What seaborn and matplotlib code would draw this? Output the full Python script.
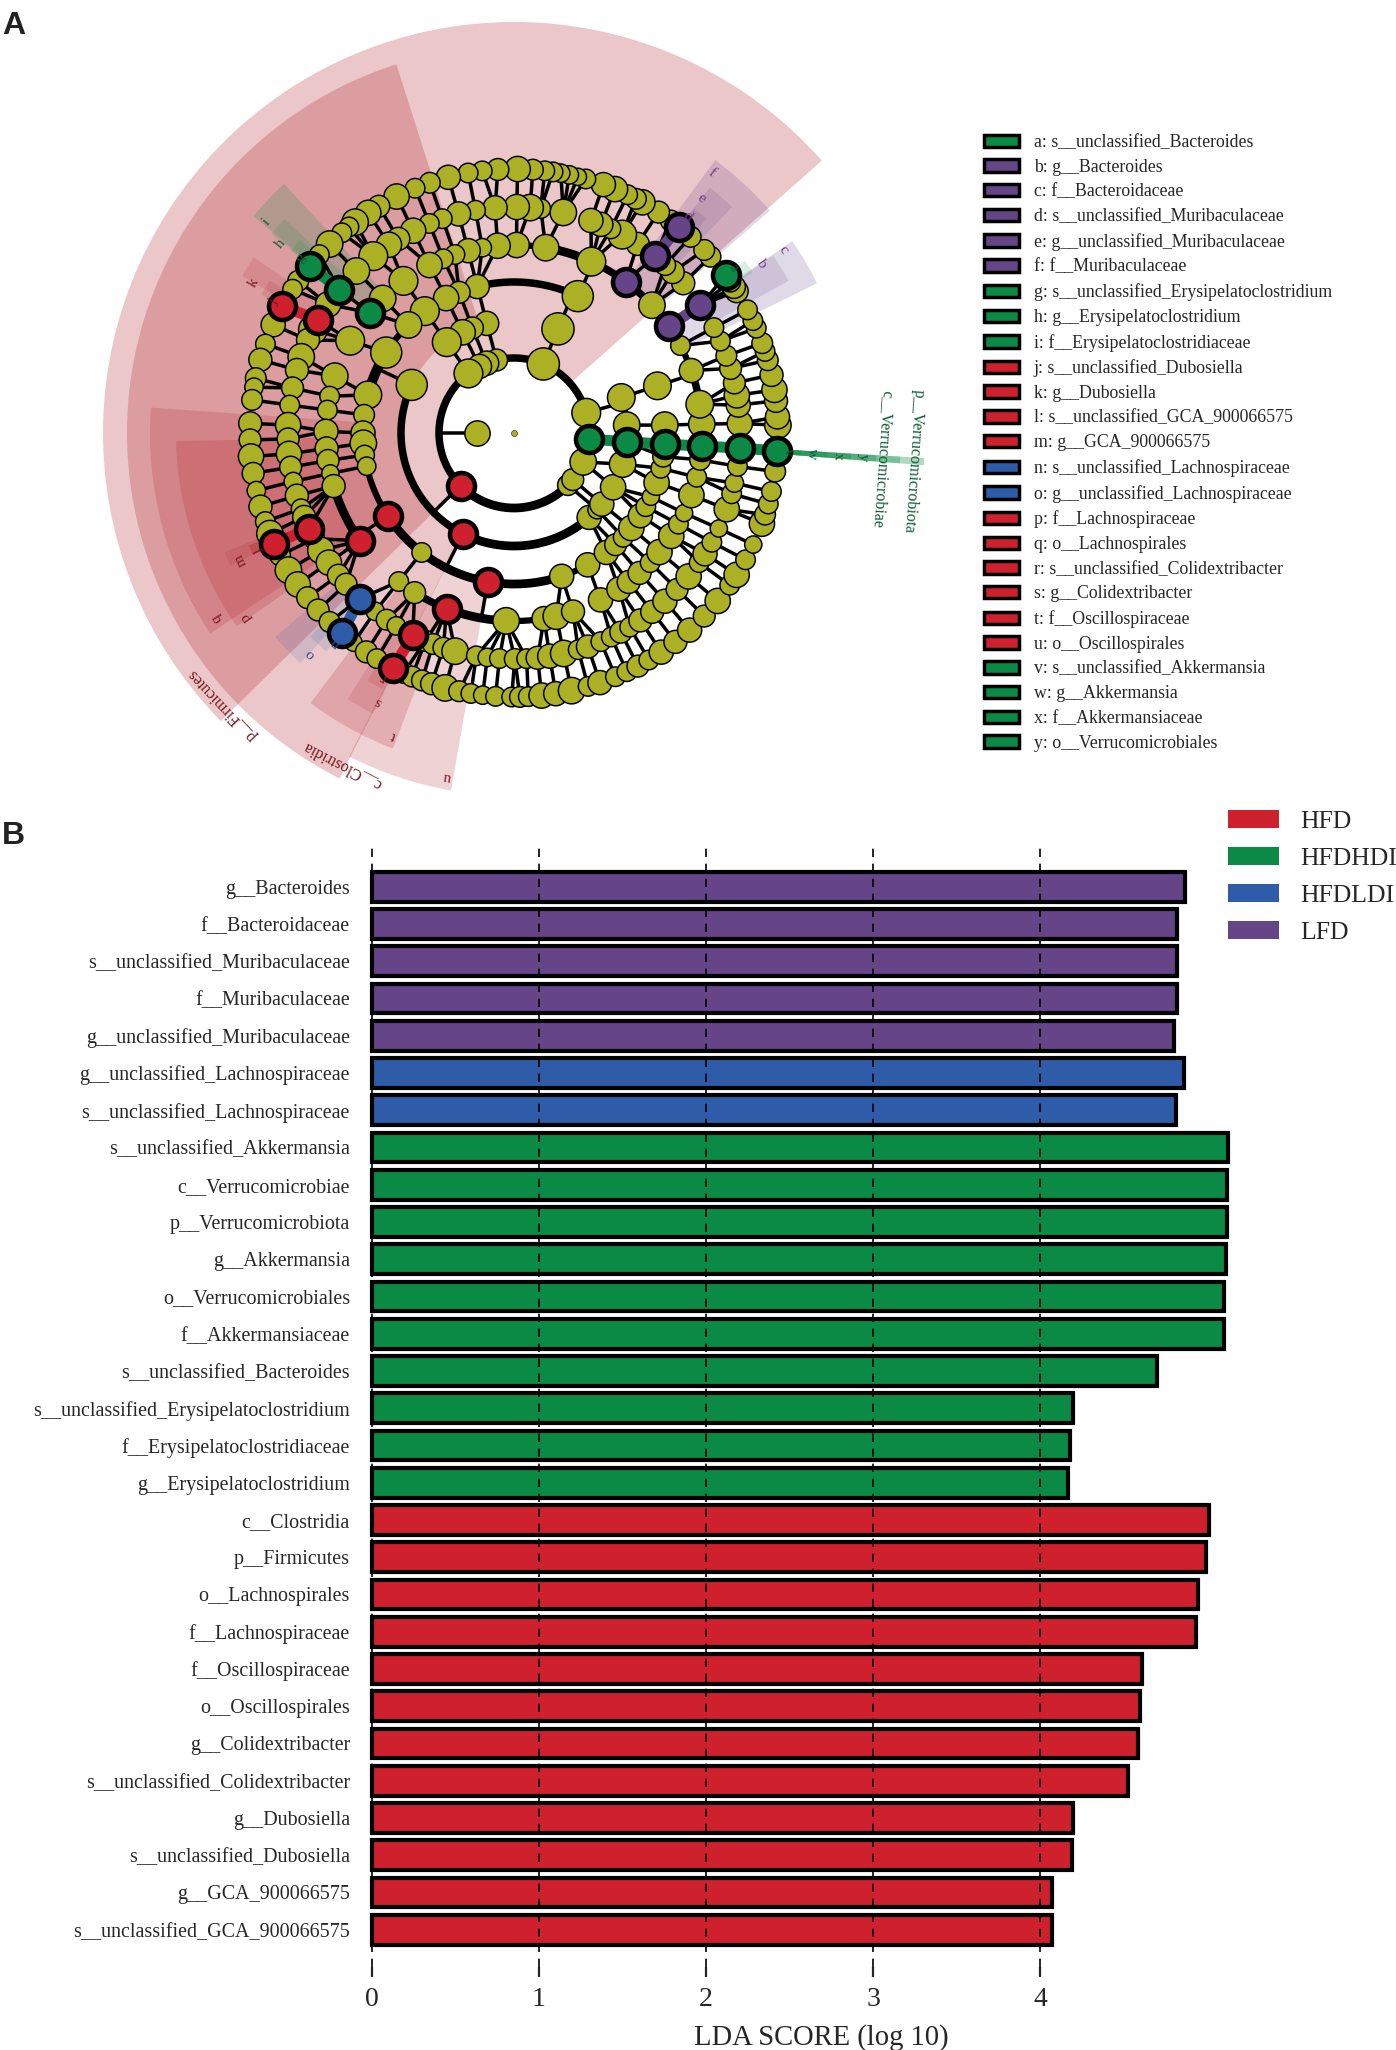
import numpy as np
import pandas as pd
import matplotlib
matplotlib.use("Agg")
import matplotlib.pyplot as plt
from matplotlib.patches import Patch
import seaborn as sns

sns.set_style("white")
plt.rcParams['font.family'] = 'Liberation Serif'

# ---- panel B data
features = ["g__Bacteroides", "f__Bacteroidaceae", "s__unclassified_Muribaculaceae", "f__Muribaculaceae",
            "g__unclassified_Muribaculaceae", "g__unclassified_Lachnospiraceae", "s__unclassified_Lachnospiraceae",
            "s__unclassified_Akkermansia", "c__Verrucomicrobiae", "p__Verrucomicrobiota", "g__Akkermansia",
            "o__Verrucomicrobiales", "f__Akkermansiaceae", "s__unclassified_Bacteroides",
            "s__unclassified_Erysipelatoclostridium", "f__Erysipelatoclostridiaceae", "g__Erysipelatoclostridium",
            "c__Clostridia", "p__Firmicutes", "o__Lachnospirales", "f__Lachnospiraceae", "f__Oscillospiraceae",
            "o__Oscillospirales", "g__Colidextribacter", "s__unclassified_Colidextribacter", "g__Dubosiella",
            "s__unclassified_Dubosiella", "g__GCA_900066575", "s__unclassified_GCA_900066575"]
scores = [4.867, 4.82, 4.82, 4.82, 4.797, 4.86, 4.81,
          5.125, 5.117, 5.117, 5.11, 5.10, 5.10, 4.695, 4.195, 4.18, 4.165,
          5.008, 4.992, 4.945, 4.93, 4.61, 4.594, 4.586, 4.523, 4.195, 4.19, 4.07, 4.07]
groups = ["LFD"] * 5 + ["HFDLDI"] * 2 + ["HFDHDI"] * 10 + ["HFD"] * 12
group_names = ["HFD", "HFDHDI", "HFDLDI", "LFD"]
group_colors = {"HFD": "#cf202e", "HFDHDI": "#0b8a45", "HFDLDI": "#2f5ca8", "LFD": "#664488"}

# ---- panel A legend
legend_labels = ["a: s__unclassified_Bacteroides", "b: g__Bacteroides", "c: f__Bacteroidaceae",
                 "d: s__unclassified_Muribaculaceae", "e: g__unclassified_Muribaculaceae", "f: f__Muribaculaceae",
                 "g: s__unclassified_Erysipelatoclostridium", "h: g__Erysipelatoclostridium",
                 "i: f__Erysipelatoclostridiaceae", "j: s__unclassified_Dubosiella", "k: g__Dubosiella",
                 "l: s__unclassified_GCA_900066575", "m: g__GCA_900066575", "n: s__unclassified_Lachnospiraceae",
                 "o: g__unclassified_Lachnospiraceae", "p: f__Lachnospiraceae", "q: o__Lachnospirales",
                 "r: s__unclassified_Colidextribacter", "s: g__Colidextribacter", "t: f__Oscillospiraceae",
                 "u: o__Oscillospirales", "v: s__unclassified_Akkermansia", "w: g__Akkermansia",
                 "x: f__Akkermansiaceae", "y: o__Verrucomicrobiales"]
legend_groups = ["HFDHDI"] + ["LFD"] * 5 + ["HFDHDI"] * 3 + ["HFD"] * 4 + ["HFDLDI"] * 2 + ["HFD"] * 6 + ["HFDHDI"] * 4

# ---- cladogram: ring radii and (angle in degrees, diameter) per taxonomic level
ring_r = [37, 75, 113, 151, 188, 226, 264]
ring0 = [(180, 22)]
ring1 = [(15.6, 25), (67, 28), (103.4, 19), (111.4, 21), (117.4, 21), (127.4, 25), (316, 18), (321.6, 19), (337.3, 23)]
ring2 = [(4, 23), (18.3, 24), (67.1, 28), (104, 21), (111.6, 19), (117, 22), (126.5, 25), (154.8, 27),
         (311.7, 21), (317.3, 16), (321, 21), (331.3, 22), (344, 23)]
ring3 = [(3, 23), (18.2, 24), (65, 27), (104.1, 21), (111.3, 19), (116.7, 22), (126.2, 25), (134.3, 23),
         (147.8, 27), (165.4, 24), (173.1, 18), (180, 21), (183.9, 23), (188.4, 17), (192.7, 16), (232.3, 17),
         (288.4, 21), (299.2, 21), (307.7, 21), (312.3, 19), (316.3, 17), (321, 22), (326.8, 21), (330.8, 17),
         (335, 15), (340.8, 22), (346.5, 17), (351, 18)]
ring4 = [(2.7, 23), (8.8, 24), (19.4, 21), (27.7, 17), (42.8, 23), (65.7, 25), (80.3, 23), (89.2, 22), (95, 22),
         (99.7, 16), (104.1, 21), (108.3, 17), (112.1, 17), (116.7, 22), (126, 25), (134.3, 23), (150.6, 25),
         (162.4, 23), (168.7, 17), (173, 17), (179.5, 21), (184.7, 20), (188.4, 19), (192.4, 15), (196.4, 20),
         (232.2, 17), (238.1, 19), (267.6, 23), (279.2, 21), (283, 23), (288.3, 20), (297.4, 21), (303.9, 21),
         (307.6, 20), (311.9, 20), (316.4, 17), (320.7, 22), (326.8, 22), (331, 17), (334.8, 15), (340.7, 22),
         (346.4, 17), (351.8, 18)]
ring5 = [(2.4, 22), (7.1, 21), (9.6, 22), (12.8, 19), (16.6, 19), (20, 18), (24, 17), (27.8, 17), (41.5, 20),
         (45.4, 20), (48, 18), (56.8, 20), (61.4, 25), (64.6, 17), (67.4, 21), (70.1, 21), (77.4, 23), (83.2, 17),
         (85.9, 23), (89.3, 22), (94.8, 21), (99.8, 17), (104.2, 21), (108.5, 17), (112, 17), (116.5, 22),
         (120.8, 20), (123.6, 22), (128.5, 25), (134.2, 23), (145.3, 22), (152.8, 25), (155.7, 20), (160.3, 23),
         (163.8, 20), (168.5, 19), (172.9, 17), (178, 22), (181.5, 19), (185.3, 22), (188.7, 19), (192.4, 16),
         (196.1, 20), (199.6, 17), (201.8, 20), (207.9, 18), (211.3, 23), (215, 22), (219, 19), (222, 19),
         (232.1, 16), (235.7, 18), (238.6, 16), (246.9, 18), (249, 18), (251.8, 18), (254.9, 23), (260.4, 17),
         (263.2, 16), (266.3, 17), (270.2, 18), (273.2, 17), (276, 20), (279.1, 21), (282.7, 23), (286.5, 17),
         (289.1, 20), (292.6, 17), (295.5, 17), (298.2, 19), (300.8, 17), (304, 20), (307.7, 20), (311.9, 21),
         (316.2, 19), (320.6, 22), (325, 17), (327.7, 21), (331.1, 17), (335, 15), (340.3, 22), (344.4, 17),
         (347.2, 16), (351.5, 17)]
ring6 = [(1.7, 23), (3.5, 21), (7, 20), (9.4, 22), (12.7, 20), (16, 18), (18, 17), (19.9, 18), (23.4, 17), (25.2, 17),
         (27.8, 17), (32.5, 20), (33.6, 20), (35, 18), (41.9, 18), (43.9, 18), (48, 18), (53.6, 18), (56.8, 19),
         (60.9, 22), (62.5, 18), (64.5, 17), (67.5, 22), (70.2, 21), (74.2, 17), (76, 15), (77.9, 16), (79.8, 16),
         (81.5, 17), (83.3, 17), (85.9, 18), (89.2, 22), (93.5, 19), (96.9, 17), (100, 17), (104.4, 21), (108.6, 18),
         (112, 17), (116.4, 22), (120.8, 19), (123.5, 22), (127, 23), (128.7, 17), (130.7, 17), (134.3, 23),
         (137.5, 17), (144.8, 18), (147, 17), (155.8, 21), (160.3, 17), (163.9, 20), (168, 18), (170, 16), (172.8, 18),
         (177.9, 20), (181.5, 19), (185.1, 22), (188.8, 19), (192.6, 16), (196.2, 20), (199.6, 17), (202.4, 23),
         (207.6, 18), (211.3, 23), (215, 22), (218.6, 19), (222.1, 19), (225.7, 18), (232.6, 15), (236, 19),
         (238.7, 17), (245.3, 18), (247.3, 18), (249.6, 18), (251.8, 19), (254.9, 23), (258, 18), (260.6, 17),
         (263.2, 16), (266, 17), (269.5, 17), (271.3, 18), (273.1, 17), (276, 22), (279.1, 21), (282.6, 23),
         (286.3, 17), (289, 21), (292.6, 17), (295.3, 17), (298, 19), (300.7, 17), (303.9, 21), (307.7, 20),
         (311.7, 21), (316.1, 19), (320.5, 22), (324.8, 17), (327.5, 22), (331.3, 17), (335, 15), (339.9, 22),
         (342, 18), (344.4, 17), (347.2, 17), (351.6, 18)]
olive_rings = [ring0, ring1, ring2, ring3, ring4, ring5, ring6]

# enriched nodes: (ring, angle, group)
enriched = [(1, 224.5, "HFD"), (2, 243.2, "HFD"), (3, 260, "HFD"), (3, 213.4, "HFD"), (4, 214.9, "HFD"), (4, 249, "HFD"),
            (5, 243.4, "HFD"), (6, 242.8, "HFD"), (5, 205, "HFD"), (6, 204.8, "HFD"), (5, 150, "HFD"), (6, 151.3, "HFD"),
            (5, 227.1, "HFDLDI"), (6, 229.3, "HFDLDI"),
            (4, 140.2, "HFDHDI"), (5, 140.6, "HFDHDI"), (6, 140.7, "HFDHDI"), (6, 36.7, "HFDHDI"),
            (1, -4.5, "HFDHDI"), (2, -4.5, "HFDHDI"), (3, -4.2, "HFDHDI"), (4, -4, "HFDHDI"), (5, -3.8, "HFDHDI"), (6, -3.9, "HFDHDI"),
            (4, 53.6, "LFD"), (5, 51.4, "LFD"), (6, 51.3, "LFD"), (4, 34.6, "LFD"), (5, 34.4, "LFD")]
# pairs of enriched nodes joined by a thick coloured link
links = [(5, 243.4, 6, 242.8, "HFD"), (5, 205, 6, 204.8, "HFD"), (5, 150, 6, 151.3, "HFD"), (5, 227.1, 6, 229.3, "HFDLDI"),
         (5, 140.6, 6, 140.7, "HFDHDI"), (5, 51.4, 6, 51.3, "LFD"), (4, 34.6, 5, 34.4, "LFD"),
         (1, -4.5, 2, -4.5, "HFDHDI"), (2, -4.5, 3, -4.2, "HFDHDI"), (3, -4.2, 4, -4, "HFDHDI"),
         (4, -4, 5, -3.8, "HFDHDI"), (5, -3.8, 6, -3.9, "HFDHDI")]
# arcs along a ring: (ring, from angle, to angle, width in px)
arcs = [(1, 15.6, 67, 6), (1, 67, 127.4, 6), (1, 127.4, 224.5, 6), (1, 224.5, 316, 7), (1, 316, 375.6, 4),
        (2, 154.8, 243.2, 6), (2, 243.2, 311.7, 7), (2, 4, 18.3, 5),
        (3, 65, 104.1, 6), (3, 134.3, 147.8, 5), (3, 147.8, 165.4, 8), (3, 192.7, 213.4, 5), (3, 213.4, 260, 7),
        (3, 260, 288.4, 7), (3, 288.4, 299.2, 5),
        (4, 8.8, 19.4, 6), (4, 19.4, 27.7, 5), (4, 27.7, 34.6, 4), (4, 34.6, 42.8, 6), (4, 42.8, 53.6, 6),
        (4, 53.6, 65.7, 6), (4, 65.7, 80.3, 7), (4, 80.3, 89.2, 5), (4, 196.4, 214.9, 7), (4, 238.1, 249, 6),
        (4, 249, 267.6, 7), (4, 267.6, 279.2, 5)]
# shaded clades: (label, from angle, to angle, inner ring, outer radius, group)
clades = [("p__Firmicutes", 41.5, 224.5, 1, 411, "HFD"), ("c__Clostridia", 107.7, 243.2, 2, 387, "HFD"),
          ("q", 176, 213.4, 3, 364, "HFD"), ("p", 181.4, 214.9, 4, 338, "HFD"), ("u", 243, 260, 3, 363, "HFD"),
          ("t", 233, 249, 4, 338, "HFD"), ("s", 238, 243.4, 5, 314, "HFD"), ("r", 239.4, 242.8, 6, 288, "HFD"),
          ("m", 202.4, 205, 5, 313, "HFD"), ("l", 203, 204.8, 6, 288, "HFD"), ("k", 146, 150, 5, 314, "HFD"),
          ("j", 148, 151.3, 6, 288, "HFD"), ("o", 220.5, 227.1, 5, 314, "HFDLDI"), ("n", 225, 229.3, 6, 288, "HFDLDI"),
          ("i", 132.7, 140.2, 4, 339, "HFDHDI"), ("h", 137, 140.6, 5, 314, "HFDHDI"), ("g", 138, 140.7, 6, 288, "HFDHDI"),
          ("f", 41, 53.6, 4, 339, "LFD"), ("e", 46, 51.4, 5, 314, "LFD"), ("d", 48, 51.3, 6, 288, "LFD"),
          ("c", 26.3, 34.6, 4, 338, "LFD"), ("b", 29, 34.4, 5, 314, "LFD"), ("a", 34, 36.7, 6, 288, "HFDHDI"),
          ("p__Verrucomicrobiota", -4.5, -3.5, 1, 411, "HFDHDI"), ("c__Verrucomicrobiae", -4.5, -3.5, 2, 387, "HFDHDI"),
          ("y", -4.5, -3.5, 3, 363, "HFDHDI"), ("x", -4.5, -3.5, 4, 338, "HFDHDI"),
          ("w", -4.5, -3.5, 5, 314, "HFDHDI"), ("v", -4.5, -3.5, 6, 288, "HFDHDI")]
# clade labels: (text, angle, radius, group)
clade_labels = [("p__Firmicutes", 223, 399, "HFD"), ("c__Clostridia", 242.6, 374, "HFD"), ("u", 259, 350, "HFD"),
                ("t", 248.3, 325, "HFD"), ("s", 243.2, 301, "HFD"), ("r", 242, 277, "HFD"), ("q", 212, 350, "HFD"),
                ("p", 214.5, 325, "HFD"), ("m", 205, 301, "HFD"), ("l", 204.6, 280, "HFD"), ("k", 150, 301, "HFD"),
                ("j", 151.5, 274, "HFD"), ("o", 227.3, 301, "HFDLDI"), ("n", 229.6, 276, "HFDLDI"),
                ("i", 139.6, 325, "HFDHDI"), ("h", 141, 300, "HFDHDI"), ("g", 140.7, 276, "HFDHDI"),
                ("f", 52.7, 327, "LFD"), ("e", 51.5, 300, "LFD"), ("d", 51.3, 277, "LFD"), ("c", 34.2, 325, "LFD"),
                ("b", 34.4, 300, "LFD"), ("a", 37, 275, "HFDHDI"), ("v", -4, 275, "HFDHDI"), ("w", -4, 299, "HFDHDI"),
                ("x", -4, 325, "HFDHDI"), ("y", -4, 350, "HFDHDI"),
                ("p__Verrucomicrobiota", -4, 401, "HFDHDI"), ("c__Verrucomicrobiae", -4, 369, "HFDHDI")]
label_colors = {"HFD": "#7a1418", "HFDHDI": "#0d5a33", "HFDLDI": "#2a4a90", "LFD": "#7a3a8a"}

W, H = 1396, 2050
fig = plt.figure(figsize=(W / 100, H / 100), dpi=100)


def px(v):
    return v * 0.72


# ---- A: cladogram
R = 430
cx, cy = 514, 433
ax_a = fig.add_axes([(cx - R) / W, 1 - (cy + R) / H, 2 * R / W, 2 * R / H], projection="polar")
ax_a.set_ylim(0, R)
ax_a.axis("off")

for name, a0, a1, ring, r_out, grp in clades:
    if a1 - a0 < 2:
        alpha = 0.32
    elif ring >= 5:
        alpha = 0.15
    elif ring >= 3:
        alpha = 0.2
    else:
        alpha = 0.25
    col = "#b0202a" if grp == "HFD" else group_colors[grp]
    ax_a.bar(np.radians((a0 + a1) / 2), r_out - ring_r[ring], width=np.radians(a1 - a0), bottom=ring_r[ring],
             color=col, alpha=alpha, linewidth=0, zorder=1)

for ring, a0, a1, w in arcs:
    t = np.radians(np.linspace(a0, a1, 60))
    ax_a.plot(t, np.full(60, ring_r[ring]), color="black", lw=px(w * 1.25), solid_capstyle="butt", zorder=2)


def on_arc(ring, ang):
    for r, a0, a1, w in arcs:
        if r == ring and (a0 <= ang <= a1 or a0 <= ang + 360 <= a1):
            return True
    return False


def gap(a, b):
    return abs((a - b + 180) % 360 - 180)


# spokes and branches between neighbouring levels
all_angles = [[a for a, d in rg] for rg in olive_rings]
for ring, a, g in enriched:
    all_angles[ring].append(a)
for k in range(1, 7):
    parents = np.array(all_angles[k - 1])
    for a in all_angles[k]:
        if on_arc(k, a):
            continue
        d = [gap(a, p) for p in parents]
        i = int(np.argmin(d))
        if d[i] < 14:
            ax_a.plot(np.radians([parents[i], a]), [ring_r[k - 1], ring_r[k]], color="black", lw=px(3.5), zorder=2)
    for p in parents:
        if on_arc(k, p):
            ax_a.plot(np.radians([p, p]), [ring_r[k - 1], ring_r[k]], color="black", lw=px(3.5), zorder=2)

for r0, a0, r1, a1, grp in links:
    ax_a.plot(np.radians([a0, a1]), [ring_r[r0], ring_r[r1]], color=group_colors[grp], lw=px(11),
              solid_capstyle="butt", zorder=2.5)

for k, rg in enumerate(olive_rings):
    ax_a.scatter(np.radians([a for a, d in rg]), [ring_r[k]] * len(rg), s=[px(d * 1.15) ** 2 for a, d in rg],
                 color="#acb025", edgecolor="black", linewidth=px(1.5), zorder=3 + k * 0.01)
ax_a.scatter([0], [0], s=px(6) ** 2, color="#acb025", edgecolor="black", linewidth=px(0.5), zorder=3)
for ring, a, grp in enriched:
    ax_a.scatter(np.radians(a), ring_r[ring], s=px(27) ** 2, color=group_colors[grp], edgecolor="black",
                 linewidth=px(4.5), zorder=4)

for txt, a, r, grp in clade_labels:
    ax_a.text(np.radians(a), r, txt, rotation=a - 90, rotation_mode="anchor", ha="center", va="center",
              color=label_colors[grp], fontsize=11.5 if len(txt) > 1 else 11, zorder=5)

handles = [Patch(facecolor=group_colors[g], edgecolor="black", linewidth=2.5) for g in legend_groups]
fig.legend(handles, legend_labels, loc="upper left", bbox_to_anchor=(984 / W, 1 - 134 / H), frameon=False,
           fontsize=12.75, handlelength=2.0, handleheight=0.7, handletextpad=0.8, labelspacing=0.437,
           borderpad=0, borderaxespad=0)

# ---- B: LDA bars
df = pd.DataFrame({"feature": features, "score": scores, "group": groups})
x0, x_unit = 371.5, 167.2
ax_b = fig.add_axes([(x0 - 0.1 * x_unit) / W, 1 - 1967 / H, (5.3 * x_unit) / W, (1967 - 845) / H])
sns.barplot(data=df, y="feature", x="score", hue="group", hue_order=group_names, palette=group_colors, dodge=False,
            saturation=1, edgecolor="black", linewidth=3, width=0.8, ax=ax_b)
ax_b.set_xlim(-0.1, 5.2)
ax_b.set_ylim(29.0, -1.12)
ax_b.set_xticks([0, 1, 2, 3, 4])
ax_b.set_ylabel("")
ax_b.set_xlabel("LDA SCORE (log 10)", fontsize=20.6)
ax_b.xaxis.set_label_coords((821 - (x0 - 0.1 * x_unit)) / (5.3 * x_unit), -0.051)
ax_b.grid(axis="x", color="black", linestyle=(0, (5, 4)), linewidth=1.2)
ax_b.set_axisbelow(False)
ax_b.tick_params(axis="x", length=7.5, width=1.6, labelsize=20, pad=7, bottom=True)
ax_b.tick_params(axis="y", length=0, labelsize=14.4, pad=3.5)
sns.despine(ax=ax_b, left=True, bottom=True)

leg_handles, leg_labels = ax_b.get_legend_handles_labels()
leg = ax_b.legend(leg_handles, leg_labels, loc="upper left", bbox_to_anchor=(1228 / W, 1 - 810 / H),
                  bbox_transform=fig.transFigure, frameon=False, fontsize=18.5, handlelength=2.0, handleheight=0.7,
                  handletextpad=0.8, labelspacing=0.55, borderpad=0, borderaxespad=0)
for h in leg.legend_handles:
    h.set_edgecolor("none")

fig.text(2 / W, 1 - 26 / H, "A", family="Liberation Sans", fontweight="bold", fontsize=23, color="#222222", va="center")
fig.text(2 / W, 1 - 836 / H, "B", family="Liberation Sans", fontweight="bold", fontsize=23, color="#222222", va="center")

fig.savefig("out.png", dpi=100)
